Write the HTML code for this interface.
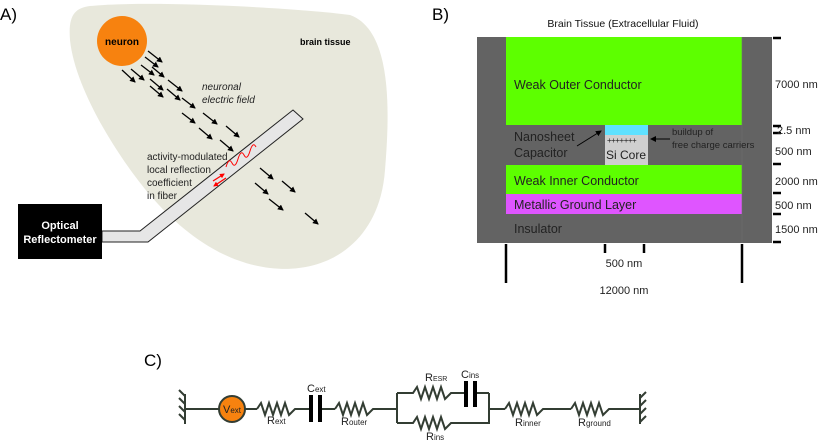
<!DOCTYPE html>
<html><head><meta charset="utf-8"><style>
body{margin:0;background:#fff}
svg{display:block}
text{font-family:"Liberation Sans",sans-serif}
</style></head><body>
<svg width="830" height="443" viewBox="0 0 830 443" xmlns="http://www.w3.org/2000/svg">
<defs>
<marker id="ah" markerWidth="6" markerHeight="6" refX="5" refY="3" orient="auto" markerUnits="userSpaceOnUse"><path d="M0,0 L6,3 L0,6 Z" fill="#000"/></marker>
<marker id="rh" markerWidth="5" markerHeight="5" refX="4" refY="2.5" orient="auto" markerUnits="userSpaceOnUse"><path d="M0,0 L5,2.5 L0,5 Z" fill="#f00"/></marker>
</defs>
<!-- Panel A -->
<text x="0" y="20" font-size="17">A)</text>
<path d="M90 6 C150 0,300 8,350 15 C392 30,390 110,385 170 C380 240,330 275,270 268 C220 262,180 230,150 195 C120 160,75 90,70 40 C68 15,75 8,90 6 Z" fill="#e8e8dc"/>
<circle cx="122" cy="41" r="25" fill="#f7820f"/>
<text x="122" y="45" font-size="10" font-weight="bold" text-anchor="middle">neuron</text>
<text x="300" y="45" font-size="9" font-weight="bold">brain tissue</text>
<g stroke="#000" stroke-width="1.3" marker-end="url(#ah)">
<line x1="148" y1="51" x2="162" y2="62"/><line x1="145" y1="57" x2="158" y2="67"/>
<line x1="141" y1="65" x2="154" y2="75"/><line x1="152" y1="67" x2="164" y2="77"/>
<line x1="122" y1="70" x2="135" y2="82"/><line x1="131" y1="69" x2="144" y2="80"/>
<line x1="150" y1="79" x2="163" y2="90"/><line x1="168" y1="80" x2="182" y2="91"/>
<line x1="150" y1="86" x2="163" y2="97"/><line x1="167" y1="89" x2="180" y2="100"/>
<line x1="182" y1="98" x2="195" y2="108"/><line x1="182" y1="113" x2="195" y2="123"/>
<line x1="203" y1="113" x2="217" y2="124"/><line x1="199" y1="128" x2="212" y2="139"/>
<line x1="226" y1="126" x2="239" y2="137"/><line x1="220" y1="140" x2="233" y2="151"/>
<line x1="260" y1="168" x2="273" y2="179"/><line x1="282" y1="181" x2="295" y2="192"/>
<line x1="255" y1="183" x2="268" y2="194"/><line x1="269" y1="199" x2="283" y2="210"/>
<line x1="305" y1="213" x2="318" y2="224"/>
</g>
<text x="202" y="90" font-size="10" font-style="italic" fill="#222">neuronal</text>
<text x="202" y="103" font-size="10" font-style="italic" fill="#222">electric field</text>
<polygon points="102,231 140,231 293,110 303,119 148,242 102,242" fill="#e6e6e6" stroke="#222" stroke-width="1"/>
<path d="M226 167 q3 -10 6 -4 q3 6 6 -4 q3 -10 6 -4 q3 6 6 -4 q3 -10 6 -4" fill="none" stroke="#f00" stroke-width="1"/>
<line x1="213" y1="181" x2="224" y2="174" stroke="#f00" stroke-width="1.3" marker-end="url(#rh)"/>
<line x1="226" y1="178" x2="214" y2="186" stroke="#f00" stroke-width="1.3" marker-end="url(#rh)"/>
<text font-size="10" fill="#222"><tspan x="147" y="160">activity-modulated</tspan><tspan x="147" y="173">local reflection</tspan><tspan x="147" y="186">coefficient</tspan><tspan x="147" y="199">in fiber</tspan></text>
<rect x="18" y="204" width="84" height="55" fill="#000"/>
<text x="60" y="229" font-size="11" font-weight="bold" fill="#fff" text-anchor="middle">Optical</text>
<text x="60" y="243" font-size="11" font-weight="bold" fill="#fff" text-anchor="middle">Reflectometer</text>

<!-- Panel B -->
<text x="432" y="20" font-size="17">B)</text>
<text x="623" y="27" font-size="10.5" text-anchor="middle" fill="#111">Brain Tissue (Extracellular Fluid)</text>
<rect x="477" y="37" width="295" height="206" fill="#636363"/>
<rect x="506" y="37" width="236" height="88" fill="#5dff00"/>
<rect x="605" y="125" width="43" height="10" fill="#5fe1ff"/>
<rect x="605" y="135" width="43" height="30" fill="#cfcfcf"/>
<rect x="506" y="165" width="236" height="29" fill="#5dff00"/>
<rect x="506" y="194" width="236" height="20" fill="#df55ff"/>
<line x1="742" y1="37" x2="742" y2="243" stroke="#707070" stroke-width="0.6"/>
<g font-size="12.5" fill="#222">
<text x="514" y="89">Weak Outer Conductor</text>
<text x="514" y="141">Nanosheet</text>
<text x="514" y="157">Capacitor</text>
<text x="514" y="185">Weak Inner Conductor</text>
<text x="514" y="209">Metallic Ground Layer</text>
<text x="514" y="233">Insulator</text>
<text x="606" y="159" font-size="12">Si Core</text>
</g>
<text x="607" y="143" font-size="8" fill="#222" letter-spacing="-0.5">+++++++</text>
<text x="672" y="135" font-size="9.5" fill="#222">buildup of</text>
<text x="672" y="148" font-size="9.5" fill="#222">free charge carriers</text>
<line x1="577" y1="146" x2="601" y2="131" stroke="#000" stroke-width="1" marker-end="url(#ah)"/>
<line x1="670" y1="139" x2="651" y2="139" stroke="#000" stroke-width="1" marker-end="url(#ah)"/>
<g stroke="#000" stroke-width="2.5">
<line x1="773" y1="38" x2="781" y2="38"/><line x1="773" y1="126" x2="781" y2="126"/>
<line x1="773" y1="133" x2="781" y2="133"/><line x1="773" y1="164" x2="781" y2="164"/>
<line x1="773" y1="193" x2="781" y2="193"/><line x1="773" y1="214" x2="781" y2="214"/>
<line x1="773" y1="242" x2="781" y2="242"/>
<line x1="506" y1="244" x2="506" y2="283"/><line x1="742" y1="244" x2="742" y2="283"/>
<line x1="605" y1="244" x2="605" y2="253"/><line x1="644" y1="244" x2="644" y2="253"/>
</g>
<g font-size="11" fill="#222">
<text x="775" y="88">7000 nm</text>
<text x="777" y="134">2.5 nm</text>
<text x="775" y="155">500 nm</text>
<text x="775" y="185">2000 nm</text>
<text x="775" y="209">500 nm</text>
<text x="775" y="233">1500 nm</text>
<text x="624" y="267" text-anchor="middle">500 nm</text>
<text x="624" y="294" text-anchor="middle">12000 nm</text>
</g>

<!-- Panel C -->
<text x="144" y="366" font-size="17">C)</text>
<g stroke="#333d33" stroke-width="2" fill="none">
<line x1="185" y1="409" x2="219" y2="409"/>
<line x1="245" y1="409" x2="257" y2="409"/>
<polyline points="257,409 261,403 265,415 269,403 273,415 277,403 281,415 285,403 289,415 295,409 310,409"/>
<line x1="322" y1="409" x2="335" y2="409"/>
<polyline points="335,409 339,403 343,415 347,403 351,415 355,403 359,415 363,403 367,415 373,409 397,409"/>
<line x1="397" y1="393" x2="397" y2="423"/>
<line x1="489" y1="393" x2="489" y2="409"/>
<polyline points="397,393 413,393 417,387 421,399 425,387 429,399 433,387 437,399 441,387 445,399 451,393 465,393"/>
<line x1="477" y1="393" x2="489" y2="393"/>
<polyline points="397,423 413,423 417,417 421,429 425,417 429,429 433,417 437,429 441,417 445,429 451,423 489,423 489,409 505,409"/>
<polyline points="505,409 509,403 513,415 517,403 521,415 525,403 529,415 533,403 537,415 543,409 571,409"/>
<polyline points="571,409 575,403 579,415 583,403 587,415 591,403 595,415 599,403 603,415 609,409 640,409"/>
<line x1="185" y1="394" x2="185" y2="424"/>
<line x1="185" y1="396" x2="179" y2="390"/><line x1="185" y1="404" x2="179" y2="398"/><line x1="185" y1="412" x2="179" y2="406"/><line x1="185" y1="420" x2="179" y2="414"/>
<line x1="640" y1="394" x2="640" y2="424"/>
<line x1="640" y1="398" x2="646" y2="392"/><line x1="640" y1="406" x2="646" y2="400"/><line x1="640" y1="414" x2="646" y2="408"/><line x1="640" y1="422" x2="646" y2="416"/>
</g>
<g fill="#000">
<rect x="309" y="395" width="4" height="27"/><rect x="318" y="395" width="4" height="27"/>
<rect x="464" y="381" width="4" height="26"/><rect x="473" y="381" width="4" height="26"/>
</g>
<circle cx="232" cy="409" r="13" fill="#f7820f" stroke="#333d33" stroke-width="2"/>
<g font-size="11" fill="#222">
<text x="223" y="413">V<tspan font-size="8">ext</tspan></text>
<text x="267" y="424">R<tspan font-size="8">ext</tspan></text>
<text x="307" y="392">C<tspan font-size="8">ext</tspan></text>
<text x="341" y="425">R<tspan font-size="8">outer</tspan></text>
<text x="425" y="381">R<tspan font-size="7">ESR</tspan></text>
<text x="461" y="378">C<tspan font-size="8">ins</tspan></text>
<text x="426" y="440">R<tspan font-size="8">ins</tspan></text>
<text x="515" y="426">R<tspan font-size="8">inner</tspan></text>
<text x="578" y="426">R<tspan font-size="8">ground</tspan></text>
</g>
</svg>
</body></html>
